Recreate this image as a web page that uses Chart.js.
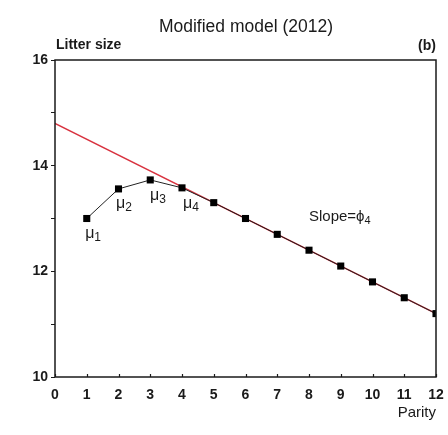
<!DOCTYPE html>
<html>
<head>
<meta charset="utf-8">
<script src="https://cdn.jsdelivr.net/npm/chart.js@4.4.1/dist/chart.umd.min.js"></script>
<style>
  html, body { margin: 0; padding: 0; background: #fff; }
  #wrap { width: 448px; height: 435px; position: relative; }
</style>
</head>
<body>
<div id="wrap"><canvas id="chart" width="448" height="435"></canvas></div>
<script>
// parity 1..12 and mean litter size per parity
const parity = [1, 2, 3, 4, 5, 6, 7, 8, 9, 10, 11, 12];
const litterSize = [13.0, 13.56, 13.73, 13.58, 13.3, 13.0, 12.7, 12.4, 12.1, 11.8, 11.5, 11.2];

// linear decline fitted from parity 4 onwards (slope = phi4)
const trendX = [0, 12];
const trendY = [14.8, 11.2];

// mu labels placed next to the first four points, in data units
const muLabels = [
    { sub: '1', x: 1.2, y: 12.72 },
    { sub: '2', x: 2.17, y: 13.29 },
    { sub: '3', x: 3.24, y: 13.44 },
    { sub: '4', x: 4.28, y: 13.29 }
];
const slopeLabel = { x: 8.0, y: 13.03 };

const FONT = '"Liberation Sans", Arial, sans-serif';
const INK = '#1a1a1a';

function subText(ctx, main, sub, x, y, size, align) {
    ctx.font = size + 'px ' + FONT;
    const w1 = ctx.measureText(main).width;
    ctx.font = Math.round(size * 0.72) + 'px ' + FONT;
    const w2 = ctx.measureText(sub).width;
    let left = x;
    if (align === 'center') left = x - (w1 + w2) / 2;
    ctx.textAlign = 'left';
    ctx.textBaseline = 'middle';
    ctx.font = size + 'px ' + FONT;
    ctx.fillText(main, left, y);
    ctx.font = Math.round(size * 0.72) + 'px ' + FONT;
    ctx.fillText(sub, left + w1, y + size * 0.28);
}

const decorations = {
    id: 'decorations',
    afterDraw(chart) {
        const ctx = chart.ctx;
        const a = chart.chartArea;
        const xs = chart.scales.x, ys = chart.scales.y;
        ctx.save();
        // frame around the plot
        ctx.strokeStyle = INK;
        ctx.lineWidth = 1.5;
        ctx.strokeRect(a.left, a.top, a.right - a.left, a.bottom - a.top);

        // x tick marks point inward
        ctx.lineWidth = 1.2;
        ctx.beginPath();
        xs.ticks.forEach(t => {
            const px = Math.round(xs.getPixelForValue(t.value)) + 0.5;
            ctx.moveTo(px, a.bottom);
            ctx.lineTo(px, a.bottom - 3);
        });
        ctx.stroke();

        ctx.fillStyle = INK;
        ctx.textBaseline = 'middle';
        ctx.textAlign = 'center';
        ctx.font = '17.5px ' + FONT;
        ctx.fillText('Modified model (2012)', 246, 27);

        ctx.font = 'bold 14px ' + FONT;
        ctx.textAlign = 'left';
        ctx.fillText('Litter size', a.left + 1, 45);
        ctx.textAlign = 'right';
        ctx.fillText('(b)', a.right, 46);
        ctx.font = '15px ' + FONT;
        ctx.fillText('Parity', a.right, 413);

        muLabels.forEach(m => {
            subText(ctx, 'μ', m.sub, xs.getPixelForValue(m.x), ys.getPixelForValue(m.y), 16, 'center');
        });
        subText(ctx, 'Slope=ϕ', '4', xs.getPixelForValue(slopeLabel.x), ys.getPixelForValue(slopeLabel.y), 15, 'left');
        ctx.restore();
    }
};

const ctx = document.getElementById('chart').getContext('2d');
new Chart(ctx, {
    type: 'line',
    data: {
        datasets: [{
            label: 'Litter size',
            data: parity.map((p, i) => ({ x: p, y: litterSize[i] })),
            borderColor: '#222',
            borderWidth: 1,
            pointStyle: 'rect',
            pointRadius: 5,
            pointBackgroundColor: '#000',
            pointBorderWidth: 0,
            order: 0
        }, {
            label: 'Trend',
            data: trendX.map((x, i) => ({ x: x, y: trendY[i] })),
            borderColor: '#d8323f',
            borderWidth: 1.3,
            pointRadius: 0,
            order: 1
        }]
    },
    options: {
        responsive: false,
        animation: false,
        devicePixelRatio: 1,
        layout: { padding: { top: 60, right: 12, left: 0, bottom: 0 } },
        plugins: { legend: { display: false }, tooltip: { enabled: false } },
        scales: {
            x: {
                type: 'linear',
                min: 0, max: 12,
                afterFit(s) { s.height = 58; s.paddingLeft = 0; s.paddingRight = 0; },
                border: { display: false },
                grid: { display: false },
                ticks: {
                    stepSize: 1,
                    padding: 2,
                    maxRotation: 0,
                    autoSkip: false,
                    color: INK,
                    font: { family: FONT, size: 14, weight: 'bold' }
                }
            },
            y: {
                min: 10, max: 16,
                afterFit(s) { s.width = 55; },
                border: { display: false },
                grid: { drawOnChartArea: false, drawTicks: true, tickLength: 4, color: INK },
                ticks: {
                    stepSize: 1,
                    padding: 3,
                    color: INK,
                    font: { family: FONT, size: 14, weight: 'bold' },
                    callback: v => (v % 2 === 0 ? v : '')
                }
            }
        }
    },
    plugins: [decorations]
});
</script>
</body>
</html>
